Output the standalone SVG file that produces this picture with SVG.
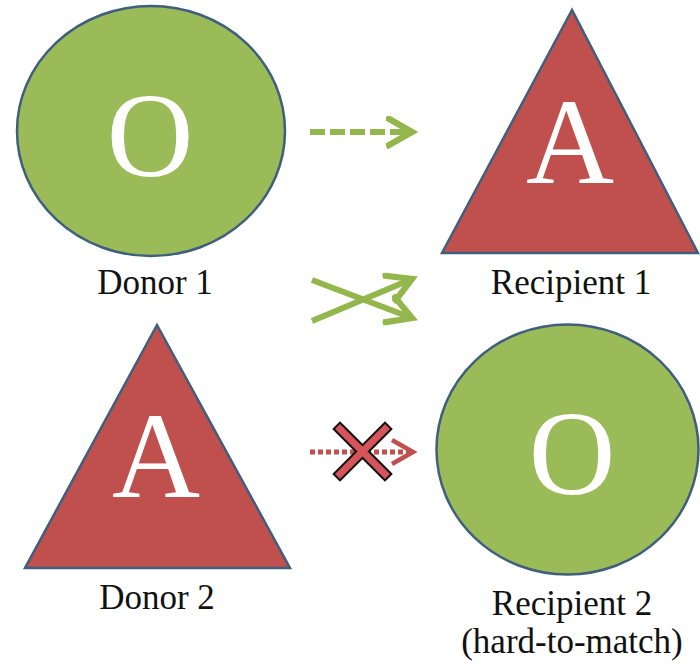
<svg xmlns="http://www.w3.org/2000/svg" width="700" height="665" viewBox="0 0 700 665">
  <style>
    .green { fill: #9bbb59; stroke: #3f5f7d; stroke-width: 2.5; }
    .red { fill: #c0504d; stroke: #3f5f7d; stroke-width: 2.5; }
    .big { fill: #ffffff; text-anchor: middle; }
    .label { font-size: 35px; fill: #111111; text-anchor: middle; }
    .garrow { fill: none; stroke: #93b64d; stroke-width: 6; }
    .rarrow { fill: none; stroke: #c0504d; stroke-width: 5; }
  </style>
  <defs>
    <marker id="headG" viewBox="0 0 10 10" refX="8" refY="5" markerWidth="5.5" markerHeight="5.5" orient="auto" markerUnits="strokeWidth">
      <path d="M1,1 L8,5 L1,9" fill="none" stroke="#93b64d" stroke-width="1.9" stroke-linecap="square"/>
    </marker>
    <marker id="headR" viewBox="0 0 10 10" refX="8" refY="5" markerWidth="6" markerHeight="6" orient="auto" markerUnits="strokeWidth">
      <path d="M1,1 L8,5 L1,9" fill="none" stroke="#c0504d" stroke-width="1.5"/>
    </marker>
  </defs>

  <rect width="700" height="665" fill="#ffffff"/>

  <g font-family="'Liberation Serif', 'Times New Roman', Tinos, 'DejaVu Serif', serif">
    <g id="donor1">
      <ellipse class="green" cx="151" cy="131" rx="134" ry="125"/>
      <text class="big" x="150" y="176" font-size="120">O</text>
      <text class="label" x="155" y="294">Donor 1</text>
    </g>

    <g id="recipient1">
      <polygon class="red" points="572,10 442,253 698,253"/>
      <text class="big" x="570" y="183" font-size="122">A</text>
      <text class="label" x="571" y="294">Recipient 1</text>
    </g>

    <g id="donor2">
      <polygon class="red" points="157,325 25,568 290,568"/>
      <text class="big" x="156" y="497" font-size="122">A</text>
      <text class="label" x="157" y="609">Donor 2</text>
    </g>

    <g id="recipient2">
      <ellipse class="green" cx="567.5" cy="449.5" rx="131" ry="125"/>
      <text class="big" x="572" y="494" font-size="120">O</text>
      <text class="label" x="572" y="615" font-size="34">Recipient 2</text>
      <text class="label" x="572" y="653" font-size="34">(hard-to-match)</text>
    </g>
  </g>

  <g id="connectors">
    <!-- compatible: donor 1 to recipient 1 -->
    <line class="garrow" x1="310" y1="132" x2="412" y2="132" stroke-dasharray="15,5" marker-end="url(#headG)"/>
    <!-- crossed exchange between the two pairs -->
    <line class="garrow" x1="312" y1="280" x2="412" y2="318" marker-end="url(#headG)"/>
    <line class="garrow" x1="312" y1="321" x2="412" y2="279" marker-end="url(#headG)"/>
    <!-- incompatible: donor 2 to recipient 2 -->
    <line class="rarrow" x1="310" y1="452" x2="413" y2="452" stroke-dasharray="5,3" marker-end="url(#headR)"/>
    <g id="blocked">
      <path d="M340,429 L385,474 M385,429 L340,474" stroke="#111111" stroke-width="11" stroke-linecap="square" fill="none"/>
      <path d="M340,429 L385,474 M385,429 L340,474" stroke="#d5545a" stroke-width="7" stroke-linecap="square" fill="none"/>
    </g>
  </g>
</svg>
